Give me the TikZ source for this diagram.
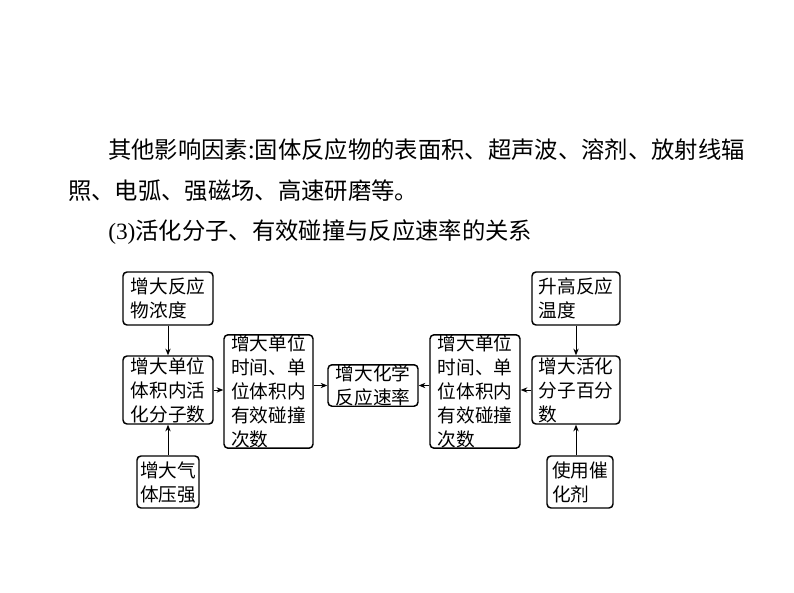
\documentclass[tikz,border=0pt]{standalone}
\usepackage{fontspec}
\setmainfont{Liberation Serif}
\newfontfamily\cjk{Noto Sans CJK SC}
\usetikzlibrary{arrows.meta}
\begin{document}
\begin{tikzpicture}[x=0.75pt,y=-0.75pt,
  bx/.style={draw,line width=1.1pt,rounded corners=3pt,inner sep=0pt,font=\cjk\fontsize{14}{18}\selectfont,align=left},
  ar/.style={-{Stealth[length=5pt,width=4pt]},line width=0.7pt},
  body/.style={anchor=west,inner sep=0pt,font=\fontsize{17.5}{20}\selectfont}]
\useasboundingbox (0,0) rectangle (794,593);
\node[body] (t1) at (108,150) {{\cjk 其他影响因素:固体反应物的表面积、超声波、溶剂、放射线辐}};
\node[body] (t2) at (68,191) {{\cjk 照、电弧、强磁场、高速研磨等。}};
\node[body] (t3) at (108,232) {(3){\cjk 活化分子、有效碰撞与反应速率的关系}};
\node[bx,minimum width=90*0.75pt,minimum height=53*0.75pt] (A) at (168,298.5) {增大反应\\物浓度};
\node[bx,minimum width=90*0.75pt,minimum height=68*0.75pt] (B) at (168,390) {增大单位\\体积内活\\化分子数};
\node[bx,minimum width=62*0.75pt,minimum height=52*0.75pt] (C) at (168,482) {增大气\\体压强};
\node[bx,minimum width=89*0.75pt,minimum height=107*0.75pt] (D) at (268.5,391.5) {增大单位\\时间、单\\位体积内\\有效碰撞\\次数};
\node[bx,minimum width=90*0.75pt,minimum height=39*0.75pt] (E) at (373,385.5) {增大化学\\反应速率};
\node[bx,minimum width=90*0.75pt,minimum height=107*0.75pt] (F) at (475,391.5) {增大单位\\时间、单\\位体积内\\有效碰撞\\次数};
\node[bx,minimum width=88*0.75pt,minimum height=53*0.75pt] (G) at (576,298.5) {升高反应\\温度\phantom{应}\phantom{应}};
\node[bx,minimum width=88*0.75pt,minimum height=68*0.75pt] (H) at (576,390) {增大活化\\分子百分\\数\phantom{分}\phantom{分}\phantom{分}};
\node[bx,minimum width=66*0.75pt,minimum height=52*0.75pt] (I) at (580,482) {使用催\\化剂\phantom{催}};
\draw[ar] (A) -- (B);
\draw[ar] (C) -- (B);
\draw[ar] (B) -- (D.west|-B);
\draw[ar] (D.east|-E) -- (E);
\draw[ar] (F.west|-E) -- (E);
\draw[ar] (H) -- (F.east|-H);
\draw[ar] (G) -- (H);
\draw[ar] (I.north-|H) -- (H);
\end{tikzpicture}
\end{document}
